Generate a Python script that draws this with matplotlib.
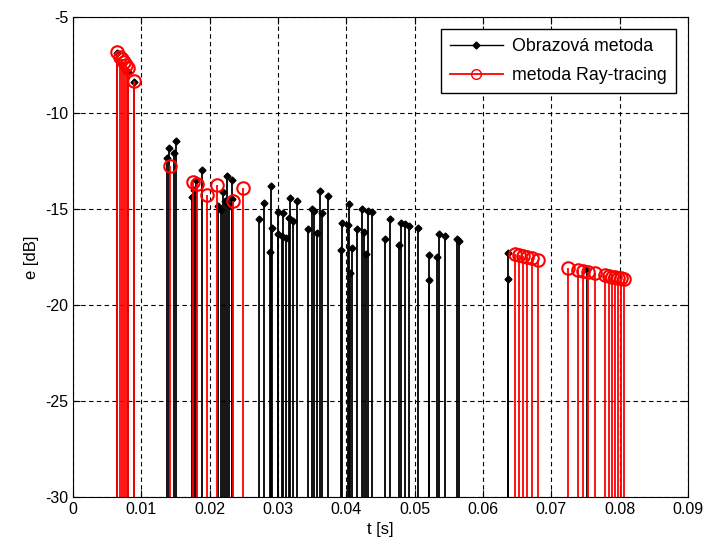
import numpy as np
import matplotlib
matplotlib.use("Agg")
import matplotlib.pyplot as plt
from matplotlib.lines import Line2D
from matplotlib.legend_handler import HandlerLine2D

plt.rcParams['font.family'] = ['Liberation Sans', 'DejaVu Sans']
plt.rcParams['axes.unicode_minus'] = False

# Obrazova metoda (black stems)
t_obr = [0.0064, 0.0081, 0.0089,
         0.0137, 0.0141, 0.0148, 0.0151,
         0.0174, 0.0177, 0.0180, 0.0189, 0.0212, 0.0217, 0.0220, 0.0223,
         0.0226, 0.0229, 0.0232, 0.0233,
         0.02727, 0.02795, 0.02893, 0.02908, 0.02883, 0.02996, 0.03005,
         0.03078, 0.03063, 0.03117, 0.03176, 0.03166, 0.03215, 0.03283,
         0.03444, 0.03493, 0.03527, 0.03567, 0.03615, 0.0364, 0.03732,
         0.03918, 0.03941, 0.04039, 0.04029, 0.04054, 0.04079, 0.04152,
         0.04234, 0.04263, 0.04288, 0.04322, 0.04371, 0.04566, 0.04639,
         0.04775, 0.0480, 0.04859, 0.04922, 0.05045, 0.05214, 0.0521,
         0.05331, 0.05356, 0.05444, 0.05615, 0.05653,
         0.0636, 0.0637, 0.0752]
e_obr = [-6.9, -7.85, -8.4,
         -12.35, -11.8, -12.1, -11.45,
         -14.4, -14.0, -13.5, -12.97, -14.85, -15.05, -14.1, -14.6,
         -13.3, -14.8, -14.5, -13.5,
         -15.54, -14.70, -13.80, -16.0, -17.26, -15.14, -16.30,
         -15.22, -16.41, -16.53, -14.44, -15.49, -15.63, -14.58,
         -16.04, -15.02, -15.1, -16.27, -14.06, -15.22, -14.31,
         -17.15, -15.71, -14.74, -15.83, -18.35, -17.05, -16.02,
         -15.02, -16.21, -17.34, -15.09, -15.14, -16.58, -15.54,
         -16.88, -15.71, -15.80, -15.87, -15.97, -17.40, -18.70,
         -17.48, -16.30, -16.39, -16.58, -16.65,
         -18.65, -17.3, -18.2]

# metoda Ray-tracing (red stems)
t_ray = [0.0064, 0.0069, 0.0072, 0.0075, 0.0078, 0.0080, 0.0089,
         0.0142,
         0.0176, 0.0182, 0.0196, 0.0210, 0.0234, 0.0249,
         0.0647, 0.0652, 0.0658, 0.0664, 0.0672, 0.0681,
         0.0725, 0.0739, 0.0746, 0.0754, 0.0764, 0.0778, 0.0784,
         0.0789, 0.0793, 0.0797, 0.0802, 0.0806]
e_ray = [-6.85, -7.1, -7.2, -7.35, -7.5, -7.65, -8.35,
         -12.75,
         -13.6, -13.7, -14.25, -13.75, -14.57, -13.92,
         -17.35, -17.4, -17.45, -17.5, -17.55, -17.65,
         -18.05, -18.2, -18.22, -18.3, -18.35, -18.42, -18.47,
         -18.52, -18.55, -18.57, -18.6, -18.63]


# legend line with the marker only at its right end (matlab style)
class EndMarkerHandler(HandlerLine2D):
    def get_xdata(self, legend, xdescent, ydescent, width, height, fontsize):
        xdata = [-xdescent, -xdescent + width]
        return xdata, xdata[-1:]


fig = plt.figure(figsize=(7.04, 5.53), dpi=100)
ax = fig.add_axes([0.1037, 0.1013, 0.8736, 0.868])

ml, sl, bl = ax.stem(t_obr, e_obr, bottom=-30, basefmt=' ')
plt.setp(sl, color='black', linewidth=1.3)
plt.setp(ml, color='black', marker='D', markersize=3.5)

ml2, sl2, bl2 = ax.stem(t_ray, e_ray, bottom=-30, basefmt=' ')
plt.setp(sl2, color='red', linewidth=1.3)
plt.setp(ml2, color='red', marker='o', markersize=9, markerfacecolor='none',
         markeredgewidth=1.5)

ax.set_xlim(0, 0.09)
ax.set_ylim(-30, -5)
ax.set_xticks(np.arange(0, 0.0901, 0.01))
ax.set_xticklabels(['0', '0.01', '0.02', '0.03', '0.04', '0.05', '0.06', '0.07', '0.08', '0.09'])
ax.set_yticks([-30, -25, -20, -15, -10, -5])
ax.tick_params(direction='in', top=True, right=True, labelsize=11.5, length=5)
ax.grid(True, color='black', linestyle=(0, (4, 3)), linewidth=0.8)
ax.set_xlabel('t [s]', fontsize=12)
ax.set_ylabel('e [dB]', fontsize=12)

h1 = Line2D([0, 1], [0, 0], color='black', linewidth=1, marker='D', markersize=3.5)
h2 = Line2D([0, 1], [0, 0], color='red', linewidth=1.3, marker='o', markersize=7,
            markerfacecolor='none')
leg = ax.legend([h1, h2], ['Obrazová metoda', 'metoda Ray-tracing'], loc='upper right',
                handler_map={Line2D: EndMarkerHandler()},
                fancybox=False, edgecolor='black', framealpha=1,
                fontsize=12.8, handlelength=3.0, handletextpad=0.5,
                labelspacing=0.65, borderpad=0.5, borderaxespad=0.7)
leg.get_frame().set_linewidth(1)

fig.savefig('out.png', dpi=100)
